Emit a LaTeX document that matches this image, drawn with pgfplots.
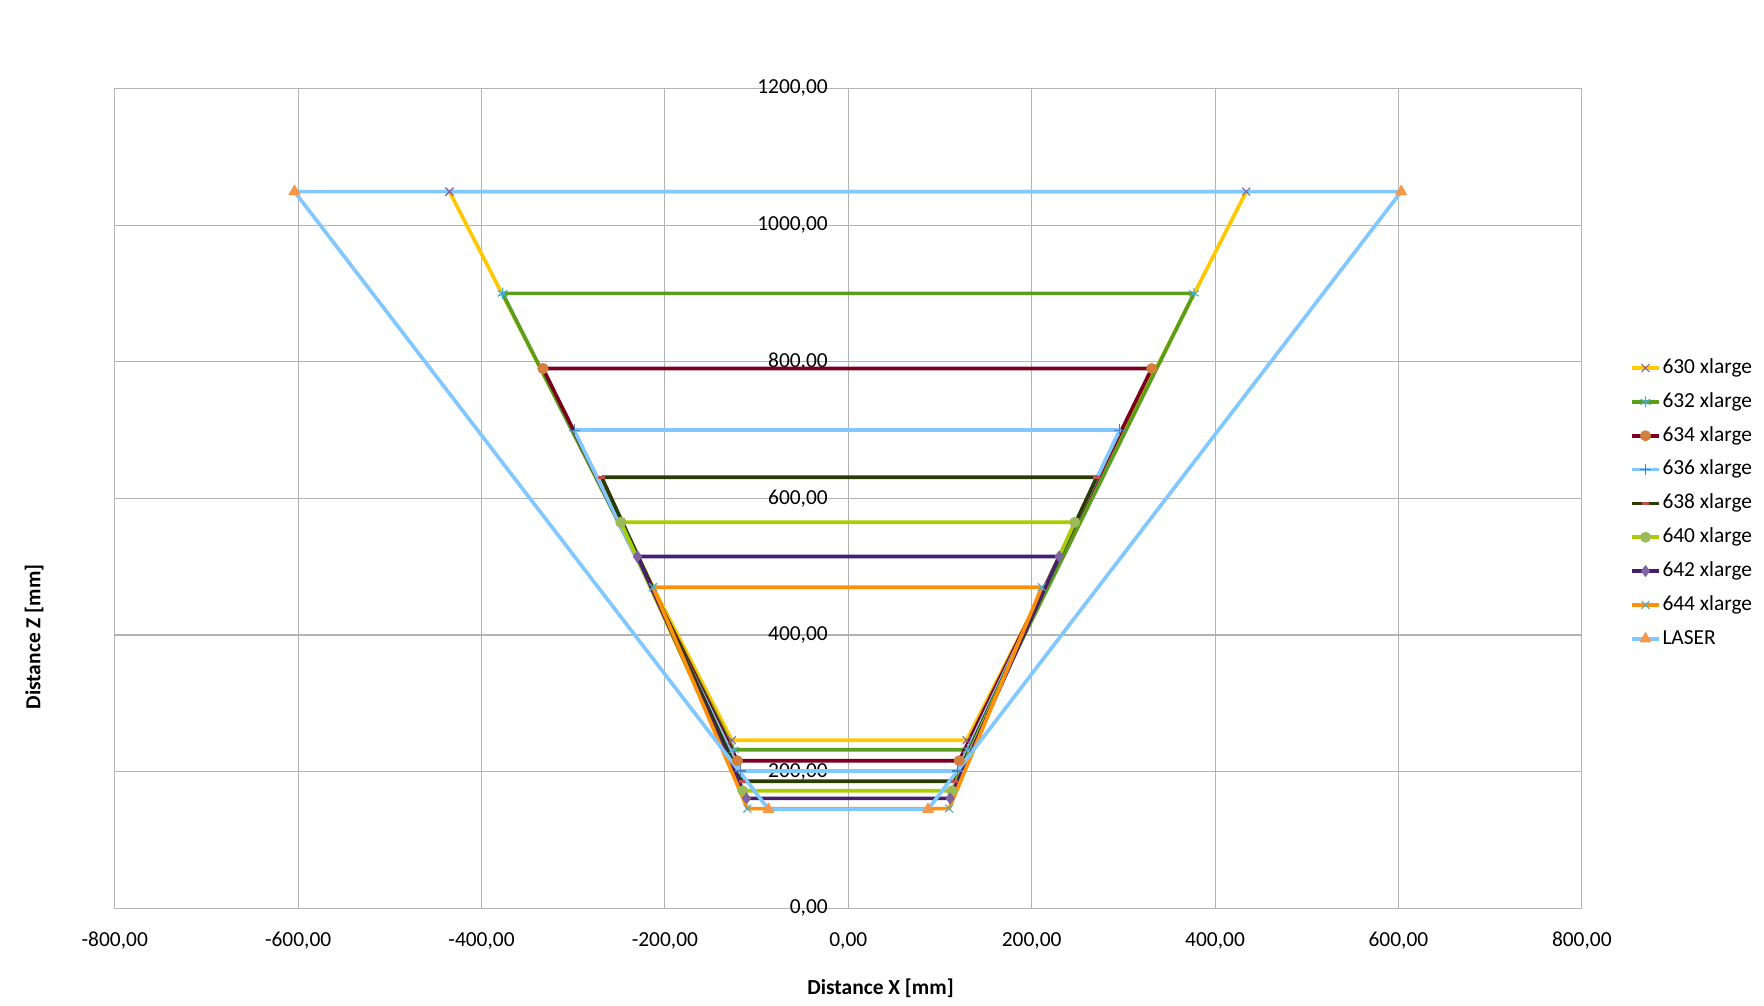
\documentclass[border=0pt]{standalone}
\usepackage{fontspec}
\setmainfont{Carlito}
\usepackage{pgfplots}
\pgfplotsset{compat=1.18}

\definecolor{gridgray}{RGB}{179,179,179}
\definecolor{c630}{RGB}{255,200,0}
\definecolor{c632}{RGB}{90,158,30}
\definecolor{c634}{RGB}{122,0,32}
\definecolor{c636}{RGB}{128,200,255}
\definecolor{c638}{RGB}{42,60,4}
\definecolor{c640}{RGB}{170,204,0}
\definecolor{c642}{RGB}{72,30,110}
\definecolor{c644}{RGB}{255,145,10}
\definecolor{mpurple}{RGB}{128,100,162}
\definecolor{mteal}{RGB}{75,172,198}
\definecolor{morange}{RGB}{212,128,60}
\definecolor{mblue}{RGB}{79,129,189}
\definecolor{mred}{RGB}{192,80,77}
\definecolor{mgreen}{RGB}{155,187,89}
\definecolor{mtri}{RGB}{247,150,70}

\begin{document}
\begin{tikzpicture}
\useasboundingbox (-53.6pt,-45.6pt) rectangle (770.2pt,424.2pt);
\begin{axis}[
    at={(0,0)}, anchor=south west,
    scale only axis, width=685.1pt, height=382.9pt,
    xmin=-800, xmax=800, ymin=0, ymax=1200,
    xtick distance=200, ytick distance=200,
    grid=major,
    major grid style={gridgray, line width=0.5pt},
    axis line style={gridgray, line width=0.5pt},
    major tick length=0pt,
    tick label style={font=\fontsize{10}{12}\selectfont},
    xticklabel style={yshift=-7.6pt},
    yticklabel style={xshift=336.5pt},
    /pgf/number format/.cd, fixed, fixed zerofill, precision=2,
        use comma, 1000 sep={}, assume math mode=true,
    /pgfplots/.cd,
    xlabel={\textbf{Distance X [mm]}},
    ylabel={\textbf{Distance Z [mm]}},
    xlabel style={at={(axis description cs:0.522,-0.097)}, anchor=center},
    ylabel style={at={(axis description cs:-0.055,0.331)}, anchor=center},
    every axis plot/.append style={line width=1.7pt, line join=round},
    legend cell align=left,
    legend style={at={(rel axis cs:1.028,0.678)}, anchor=north west,
        draw=none, fill=none, row sep=5.6pt,
        nodes={inner sep=0.6pt, text height=7pt, text depth=2pt,
            font=\fontsize{10}{12}\selectfont}},
    legend image code/.code={
        \draw[mark repeat=2, mark phase=2, #1]
            plot coordinates {(0pt,0pt) (6.5pt,0pt) (13pt,0pt)};},
]
\addplot[c630, mark=x, mark size=2.6pt,
    mark options={draw=mpurple, line width=0.5pt}] coordinates {
    (-435,1049) (-127,246) (129,246) (434,1049) (-435,1049)};
\addlegendentry{630 xlarge}
\addplot[c632, mark=asterisk, mark size=2.6pt,
    mark options={draw=mteal, line width=0.5pt}] coordinates {
    (-377,900) (-125,232) (130,232) (377,900) (-377,900)};
\addlegendentry{632 xlarge}
\addplot[c634, mark=*, mark size=2.4pt,
    mark options={draw=morange, fill=morange, line width=0.3pt}] coordinates {
    (-333,790) (-121,216) (121,216) (331,790) (-333,790)};
\addlegendentry{634 xlarge}
\addplot[c636, mark=+, mark size=2.6pt,
    mark options={draw=mblue, line width=0.5pt}] coordinates {
    (-299,700) (-118,201) (119,201) (296,700) (-299,700)};
\addlegendentry{636 xlarge}
\addplot[c638, mark=-, mark size=1.6pt,
    mark options={draw=mred, line width=1.4pt}] coordinates {
    (-269,631) (-116,186) (116,186) (271,631) (-269,631)};
\addlegendentry{638 xlarge}
\addplot[c640, mark=*, mark size=2.4pt,
    mark options={draw=mgreen, fill=mgreen, line width=0.3pt}] coordinates {
    (-248,565) (-115,172) (113,172) (247,565) (-248,565)};
\addlegendentry{640 xlarge}
\addplot[c642, mark=diamond*, mark size=2.6pt,
    mark options={draw=mpurple, fill=mpurple, line width=0.3pt}] coordinates {
    (-230,515) (-111,161) (111,161) (230,515) (-230,515)};
\addlegendentry{642 xlarge}
\addplot[c644, mark=x, mark size=2.6pt,
    mark options={draw=mteal, line width=0.5pt}] coordinates {
    (-213,470) (-110,146) (110,146) (211,470) (-213,470)};
\addlegendentry{644 xlarge}
\addplot[c636, mark=triangle*, mark size=3pt,
    mark options={draw=mtri, fill=mtri, line width=0.3pt}] coordinates {
    (-604,1049) (-87,145) (87,145) (603,1049) (-604,1049)};
\addlegendentry{LASER}
\end{axis}
\end{tikzpicture}
\end{document}
